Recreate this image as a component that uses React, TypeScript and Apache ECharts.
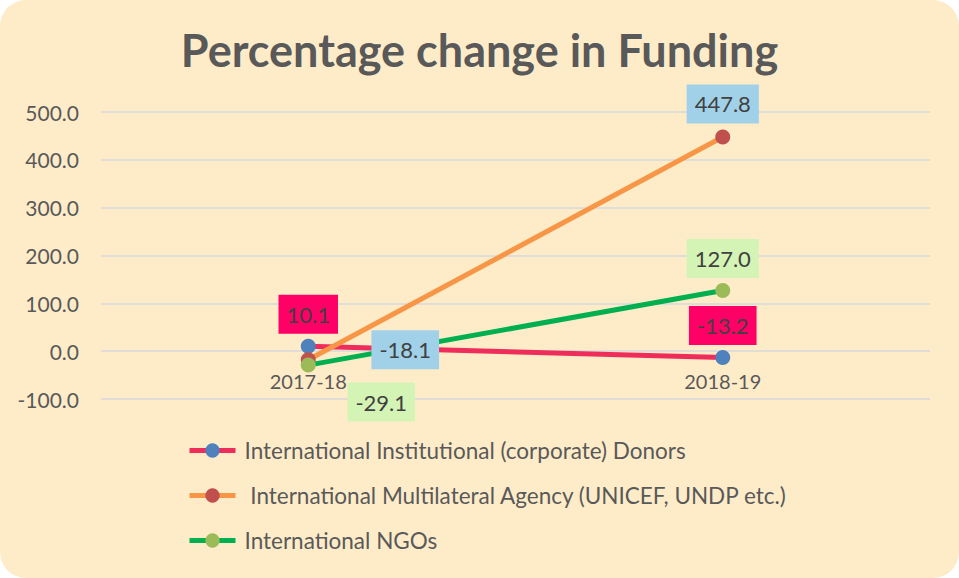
import React, { useEffect, useRef } from "react";
import * as echarts from "echarts";

const categories = ["2017-18", "2018-19"];
const seriesNames = [
  "International Institutional (corporate) Donors",
  " International Multilateral Agency (UNICEF, UNDP etc.)",
  "International NGOs",
];
const donorsValues = [10.1, -13.2];
const multilateralValues = [-18.1, 447.8];
const ngoValues = [-29.1, 127.0];
const yTicks = [-100, 500, 100];

const FONT = "Lato, 'Open Sans', sans-serif";
const TXT = "#595959";

export default function App() {
  const ref = useRef<HTMLDivElement>(null);
  useEffect(() => {
    document.body.style.margin = "0";
    const chart = echarts.init(ref.current!, null, { renderer: "svg" });
    const lbl = (bg: string, offset: number[]) => ({
      show: true,
      position: "inside",
      offset,
      opacity: 1,
      backgroundColor: bg,
      padding: [9, 8, 8, 8],
      color: "#404040",
      fontSize: 22,
      fontFamily: FONT,
      formatter: (p: any) => Number(p.value).toFixed(1),
    });
    const mk = (vals: number[], labels: any[]) =>
      vals.map((v, i) => ({ value: v, label: labels[i] }));
    const labelSeries = (name: string, vals: number[], labels: any[]) => ({
      name,
      type: "scatter",
      data: mk(vals, labels),
      symbolSize: 1,
      itemStyle: { color: "rgba(0,0,0,0)", opacity: 1 },
      silent: true,
      z: 20,
    });
    const lineSeries = (name: string, vals: number[], line: string, marker: string, z: number) => ({
      name,
      type: "line",
      data: vals,
      symbol: "circle",
      symbolSize: 15,
      lineStyle: { color: line, width: 5 },
      itemStyle: { color: marker },
      z,
    });
    chart.setOption({
      animation: false,
      backgroundColor: "transparent",
      textStyle: { fontFamily: FONT },
      title: {
        text: "Percentage change in Funding",
        left: "center",
        top: 22,
        textStyle: { fontSize: 45, fontWeight: "bold", color: TXT, fontFamily: FONT },
      },
      grid: { left: 101, right: 29, top: 112, bottom: 179 },
      xAxis: {
        type: "category",
        data: categories,
        boundaryGap: true,
        offset: -48,
        axisLine: { show: false, onZero: false },
        axisTick: { show: false },
        axisLabel: { color: TXT, fontSize: 20, fontFamily: FONT, margin: 20 },
        splitLine: { show: false },
      },
      yAxis: {
        type: "value",
        min: yTicks[0],
        max: yTicks[1],
        interval: yTicks[2],
        axisLine: { show: false },
        axisTick: { show: false },
        axisLabel: {
          color: TXT,
          fontSize: 21,
          fontFamily: FONT,
          margin: 22,
          formatter: (v: number) => v.toFixed(1),
        },
        splitLine: { lineStyle: { color: "#d6d8dc", width: 1.5 } },
      },
      legend: {
        data: seriesNames,
        orient: "vertical",
        left: 187,
        top: 439,
        padding: 0,
        itemGap: 22,
        itemWidth: 46,
        itemHeight: 18,
        lineStyle: { width: 5 },
        textStyle: { color: TXT, fontSize: 22.5, fontFamily: FONT, padding: [0, 0, 0, 4] },
      },
      series: [
        lineSeries(seriesNames[0], donorsValues, "#ee2d5a", "#4f81bd", 3),
        lineSeries(seriesNames[1], multilateralValues, "#f79646", "#c0504d", 4),
        lineSeries(seriesNames[2], ngoValues, "#00b050", "#9bbb59", 5),
        labelSeries("lbl0", donorsValues, [lbl("#ff0066", [0, -32]), lbl("#ff0066", [0, -32])]),
        labelSeries("lbl1", multilateralValues, [lbl("#a0d1e8", [97, -10]), lbl("#a0d1e8", [0, -33])]),
        labelSeries("lbl2", ngoValues, [lbl("#d4f4b6", [73, 37]), lbl("#d4f4b6", [0, -32])]),
      ],
    });
    return () => chart.dispose();
  }, []);
  return (
    <div
      style={{
        position: "fixed",
        left: 0,
        top: 0,
        width: 959,
        height: 578,
        background: "#feecc9",
        borderRadius: 26,
        overflow: "hidden",
      }}
    >
      <div ref={ref} style={{ width: 959, height: 578 }} />
    </div>
  );
}
